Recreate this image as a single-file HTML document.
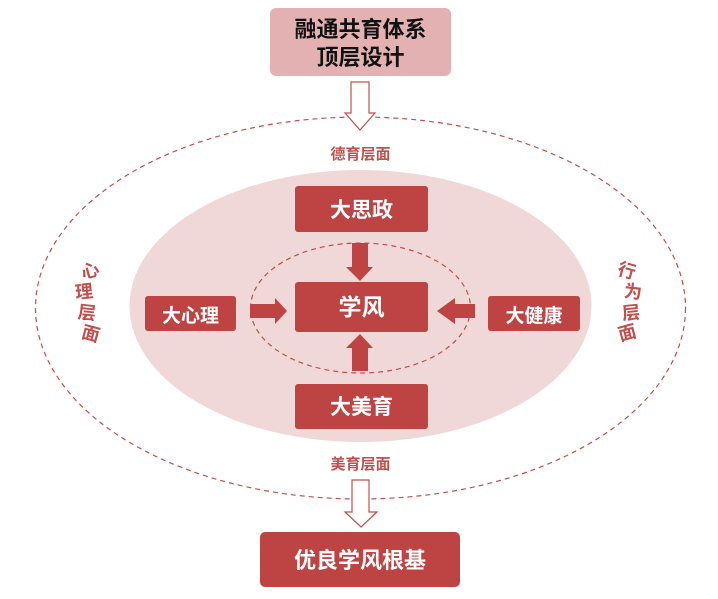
<!DOCTYPE html>
<html><head><meta charset="utf-8"><style>
html,body{margin:0;padding:0;background:#fff;width:718px;height:599px;overflow:hidden}
svg text{font-family:"Liberation Sans","Noto Sans CJK SC",sans-serif;font-weight:bold}
</style></head><body>
<svg width="718" height="599" viewBox="0 0 718 599" xmlns="http://www.w3.org/2000/svg">
<ellipse cx="360.5" cy="308" rx="325" ry="191" fill="none" stroke="#c0504d" stroke-width="1.2" stroke-dasharray="5,4"/>
<ellipse cx="360.5" cy="306" rx="231" ry="136" fill="#f0d8d8"/>
<ellipse cx="360.5" cy="308" rx="110" ry="65" fill="none" stroke="#c0504d" stroke-width="1.2" stroke-dasharray="5,4"/>
<rect x="270" y="8" width="181" height="68" rx="6" fill="#e3b1b1"/>
<text x="360.5" y="37" font-size="22" text-anchor="middle" fill="#111">融通共育体系</text>
<text x="360.5" y="65" font-size="22" text-anchor="middle" fill="#111">顶层设计</text>
<polygon points="351,82 369,82 369,113 375,113 360,130 345,113 351,113" fill="#fff" stroke="#c0504d" stroke-width="1.2"/>
<polygon points="352,480 369,480 369,512 377,512 361,527 345,512 352,512" fill="#fff" stroke="#c0504d" stroke-width="1.2"/>
<text x="360.5" y="159" font-size="15" text-anchor="middle" fill="#c0504d">德育层面</text>
<text x="360.5" y="469" font-size="15" text-anchor="middle" fill="#c0504d">美育层面</text>
<g font-size="18" fill="#c0504d" text-anchor="middle">
<text transform="translate(90,270) rotate(-15)" dy="7">心</text>
<text transform="translate(84,291) rotate(-6)" dy="7">理</text>
<text transform="translate(87,312) rotate(6)" dy="7">层</text>
<text transform="translate(91,333) rotate(15)" dy="7">面</text>
<text transform="translate(627,270) rotate(15)" dy="7">行</text>
<text transform="translate(633,291) rotate(6)" dy="7">为</text>
<text transform="translate(631,312) rotate(-6)" dy="7">层</text>
<text transform="translate(627,332) rotate(-15)" dy="7">面</text>
</g>
<g fill="#be4444">
<rect x="295" y="186" width="133" height="46" rx="3"/>
<rect x="295" y="282" width="133" height="50" rx="3"/>
<rect x="295" y="384" width="133" height="45" rx="3"/>
<rect x="145" y="296" width="91" height="35" rx="3"/>
<rect x="488" y="296" width="92" height="35" rx="3"/>
<rect x="260" y="532" width="200" height="55" rx="5"/>
<polygon points="352,243 368,243 368,267 373,267 360,281 346,267 352,267"/>
<polygon points="352,371 368,371 368,348 373,348 360,334 346,348 352,348"/>
<polygon points="250,304 275,304 275,298 287,311 275,324 275,318 250,318"/>
<polygon points="475,304 455,304 455,298 437,311 455,324 455,318 475,318"/>
</g>
<g fill="#fff" text-anchor="middle">
<text x="361.5" y="217" font-size="21">大思政</text>
<text x="361.5" y="315" font-size="23">学风</text>
<text x="361.5" y="414" font-size="21">大美育</text>
<text x="190.5" y="322" font-size="19">大心理</text>
<text x="534" y="322" font-size="19">大健康</text>
<text x="360" y="568" font-size="22">优良学风根基</text>
</g>
</svg>
</body></html>
